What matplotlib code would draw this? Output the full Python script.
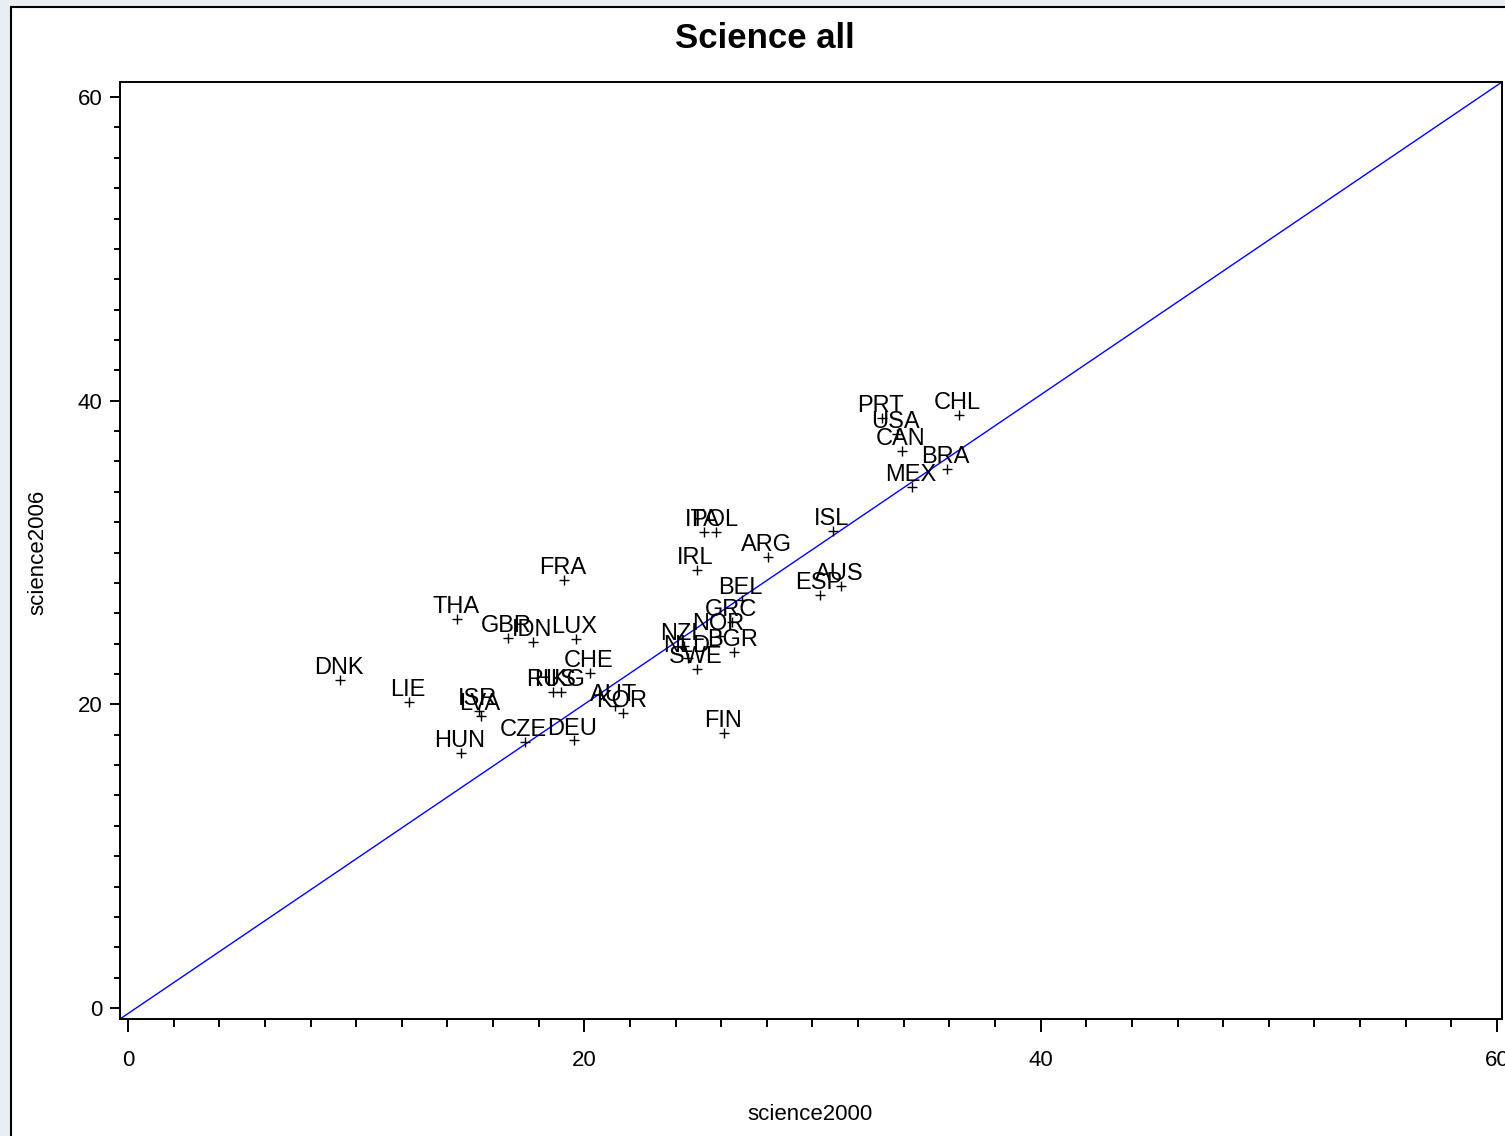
"""
Science all: science2000 vs science2006, country labels.
"""
import matplotlib
matplotlib.use("Agg")
import matplotlib.pyplot as plt
from matplotlib.patches import Rectangle
from matplotlib.ticker import MultipleLocator

plt.rcParams["font.family"] = ["Liberation Sans", "DejaVu Sans"]

countries = ["DNK", "LIE", "THA", "HUN", "ISR", "LVA", "GBR", "IDN", "CZE",
             "RUS", "HKG", "FRA", "LUX", "DEU", "CHE", "AUT", "KOR", "NZL",
             "NLD", "SWE", "IRL", "ITA", "POL", "NOR", "FIN", "GRC", "BGR",
             "BEL", "ARG", "ESP", "ISL", "AUS", "MEX", "CAN", "PRT", "USA",
             "CHL", "BRA"]
science2000 = [9.29, 12.31, 14.42, 14.59, 15.38, 15.47, 16.65, 17.75, 17.40,
               18.62, 18.97, 19.11, 19.63, 19.54, 20.25, 21.34, 21.69, 24.36,
               24.54, 24.93, 24.93, 25.24, 25.77, 25.94, 26.12, 26.47, 26.56,
               26.91, 28.05, 30.32, 30.89, 31.24, 34.36, 33.92, 33.04, 33.70,
               36.42, 35.89]
science2006 = [21.61, 20.16, 25.63, 16.80, 19.57, 19.24, 24.37, 24.11, 17.52,
               20.82, 20.82, 28.19, 24.31, 17.65, 22.07, 19.89, 19.43, 23.85,
               23.06, 22.33, 28.85, 31.36, 31.36, 24.51, 18.12, 25.43, 23.45,
               26.88, 29.71, 27.21, 31.42, 27.80, 34.32, 36.69, 38.87, 37.81,
               39.06, 35.51]
major_ticks = [0, 20, 40, 60]

W, H = 1505, 1136
fig = plt.figure(figsize=(W / 100, H / 100), dpi=100, facecolor="#e9eef3")
frame = Rectangle((11 / W, -0.01), 1.0, 1 - 7 / H + 0.01,
                  transform=fig.transFigure, facecolor="white",
                  edgecolor="black", lw=1.5, zorder=-10)
fig.patches.append(frame)

ax = fig.add_axes([120 / W, 1 - 1019 / H, (1502 - 120) / W, (1019 - 82) / H])
ax.set_zorder(1)
ax.set_xlim(-0.35, 60.22)
ax.set_ylim(-0.72, 60.99)

# reference line, corner to corner like the original
ax.plot([0, 1], [0, 1], transform=ax.transAxes, color="#0000ff", lw=1.0)

ax.plot(science2000, science2006, ls="none", marker="+", color="black",
        markersize=7, mew=1.0)
for code, x, y in zip(countries, science2000, science2006):
    ax.annotate(code, (x, y), xytext=(-1, 4), textcoords="offset points",
                ha="center", va="baseline", fontsize=17)

ax.set_xticks(major_ticks)
ax.set_yticks(major_ticks)
ax.xaxis.set_minor_locator(MultipleLocator(2))
ax.yaxis.set_minor_locator(MultipleLocator(2))
ax.tick_params(axis="x", which="major", length=9.5, width=1.4, pad=13, labelsize=16)
ax.tick_params(axis="x", which="minor", length=6, width=1.4)
ax.tick_params(axis="y", which="major", length=7.5, width=1.4, pad=5, labelsize=16)
ax.tick_params(axis="y", which="minor", length=4.5, width=1.4)
for s in ax.spines.values():
    s.set_linewidth(1.4)

fig.text(765 / W, 1 - 38 / H, "Science all", ha="center", va="center",
         fontsize=25, fontweight="bold")
fig.text(810 / W, 1 - 1115 / H, "science2000", ha="center", va="center", fontsize=16)
fig.text(38 / W, 1 - 552 / H, "science2006", ha="center", va="center",
         rotation=90, fontsize=16)

fig.savefig("out.png", dpi=100, facecolor=fig.get_facecolor())
